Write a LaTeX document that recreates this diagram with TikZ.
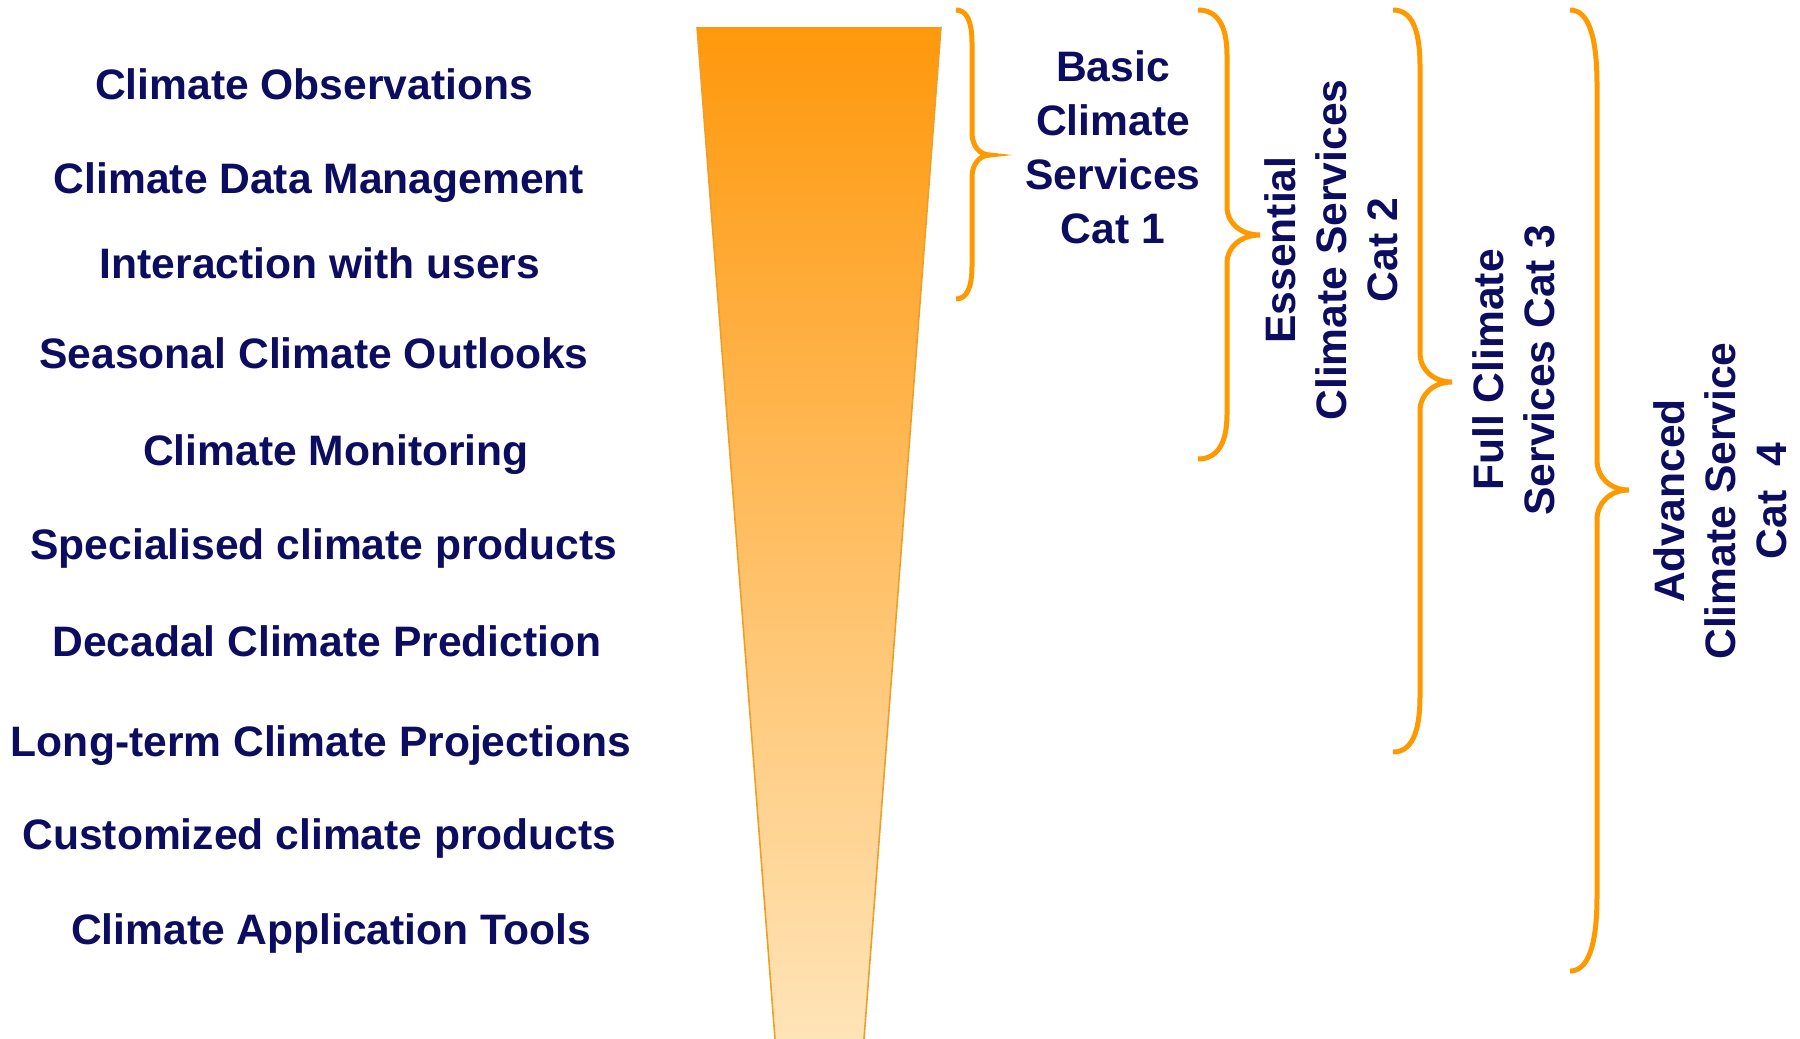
\documentclass[tikz,border=0pt]{standalone}
\usepackage{fontspec}
\setmainfont{Liberation Sans}
\definecolor{navy}{RGB}{12,12,96}
\definecolor{brc}{RGB}{255,153,0}
\definecolor{ftop}{RGB}{255,152,12}
\definecolor{fmid}{RGB}{254,190,110}
\definecolor{fbot}{RGB}{255,228,184}
\definecolor{fedge}{RGB}{236,160,40}
\begin{document}
\begin{tikzpicture}[x=0.5pt,y=-0.5pt,
  lbl/.style={font=\fontsize{21.3}{27}\selectfont\bfseries, text=navy, anchor=base, inner sep=0pt},
  blk/.style={font=\fontsize{21.3}{27}\selectfont\bfseries, text=navy, align=center, inner sep=0pt},
  rot/.style={font=\fontsize{21.3}{25.5}\selectfont\bfseries, text=navy, align=center, rotate=90, inner sep=0pt},
  bracestroke/.style={draw=brc, line width=2.5pt}]
\useasboundingbox (0,0) rectangle (1800,1039);
\fill[white] (0,0) rectangle (1800,1039);
% funnel
\shade[top color=ftop, middle color=fmid, bottom color=fbot] (697,27) -- (941,27) -- (864,1039) -- (775,1039) -- cycle;
\draw[fedge, line width=0.8pt] (697,27) -- (775,1039);
\draw[fedge, line width=0.8pt] (941,27) -- (864,1039);
% left labels
\node[lbl] (obs) at (314,99) {Climate Observations};
\node[lbl] (dm)  at (319,193) {Climate Data Management};
\node[lbl] (iu)  at (320,278) {Interaction with users};
\node[lbl] (sco) at (314,368) {Seasonal Climate Outlooks};
\node[lbl] (mon) at (336,465) {Climate Monitoring};
\node[lbl] (spc) at (324,559) {Specialised climate products};
\node[lbl] (dcp) at (327,656) {Decadal Climate Prediction};
\node[lbl] (ltp) at (321,756) {Long-term Climate Projections};
\node[lbl] (ccp) at (319.5,849) {Customized climate products};
\node[lbl] (cat) at (331,944) {Climate Application Tools};
% braces
\draw[bracestroke] (956,10) .. controls (966,10) and (972,20) .. (972,43) -- (972,133) .. controls (972,146) and (980,155) .. (990,155) .. controls (980,155) and (972,164) .. (972,177) -- (972,266) .. controls (972,289) and (966,299) .. (956,299);
\draw[bracestroke] (1198,10) .. controls (1217,10) and (1227,25) .. (1227,55) -- (1227,207) .. controls (1227,223) and (1241,235) .. (1260,235) .. controls (1241,235) and (1227,247) .. (1227,263) -- (1227,414) .. controls (1227,444) and (1217,459) .. (1198,459);
\draw[bracestroke] (1393,10) .. controls (1411,10) and (1420,28) .. (1420,66) -- (1420,353) .. controls (1420,370) and (1434,382) .. (1452,382) .. controls (1434,382) and (1420,394) .. (1420,411) -- (1420,696) .. controls (1420,734) and (1411,752) .. (1393,752);
\draw[bracestroke] (1570,10) .. controls (1588,10) and (1597,35) .. (1597,85) -- (1597,460) .. controls (1597,478) and (1611,490) .. (1629,490) .. controls (1611,490) and (1597,502) .. (1597,520) -- (1597,896) .. controls (1597,946) and (1588,971) .. (1570,971);
% category labels
\node[blk] (c1) at (1113,147) {Basic\\Climate\\Services\\Cat 1};
\node[rot] (c2) at (1331,250) {Essential\\Climate Services\\Cat 2};
\node[rot] (c3) at (1514,370) {Full Climate\\Services Cat 3};
\node[rot] (c4) at (1720,501) {Advanced\\Climate Service\\Cat\ \ 4};
\end{tikzpicture}
\end{document}
